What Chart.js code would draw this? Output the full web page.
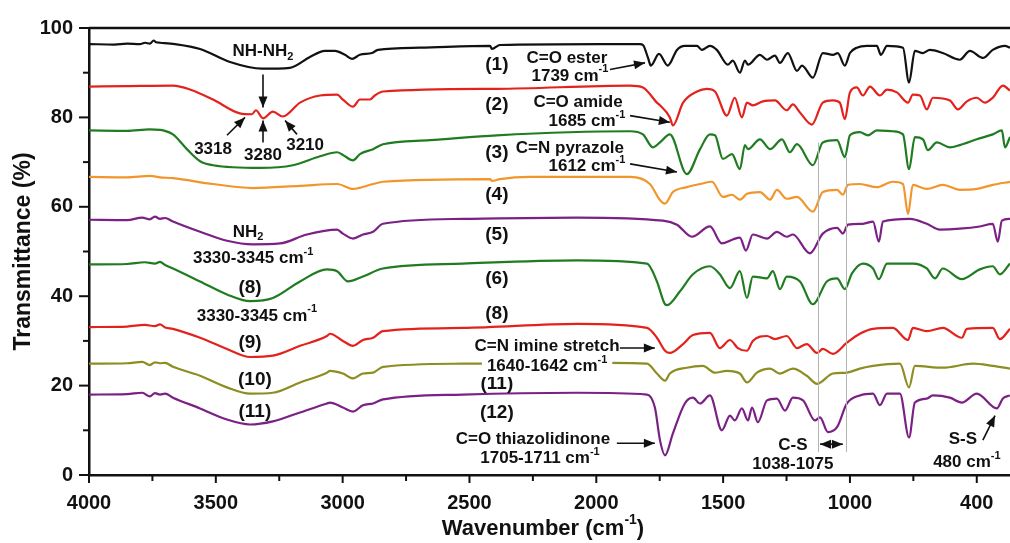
<!DOCTYPE html>
<html>
<head>
<meta charset="utf-8">
<script src="https://cdn.jsdelivr.net/npm/chart.js@4.4.1/dist/chart.umd.min.js"></script>
<style>
    html, body { margin: 0; padding: 0; background: #fff; }
</style>
</head>
<body>
<canvas id="ftirChart" width="1010" height="543"></canvas>
<script>
// Wavenumber ticks (the last one is labelled 400 in the original figure)
const xTickValues = [4000, 3750, 3500, 3250, 3000, 2750, 2500, 2250, 2000, 1750, 1500, 1250, 1000, 750, 500];
const xTickLabels = ['4000', '', '3500', '', '3000', '', '2500', '', '2000', '', '1500', '', '1000', '', '400'];
const yTickValues = [0, 10, 20, 30, 40, 50, 60, 70, 80, 90, 100];
const yTickLabels = ['0', '', '20', '', '40', '', '60', '', '80', '', '100'];

const seriesNames = ['(1)', '(2)', '(3)', '(4)', '(5)', '(6)', '(8)', '(11)', '(12)'];
const seriesColors = ['#111111', '#e3221d', '#207c20', '#f2952b', '#7b2085', '#207c20', '#e3221d', '#8d8d22', '#7b2085'];

// [wavenumber, transmittance %]
const s1 = [[4000,96.4],[3900,96.3],[3850,96.5],[3800,96.4],[3779,96.7],[3760,96.5],[3745,97.2],[3735,96.8],[3720,96.7],[3661,96.4],[3562,95.3],[3444,92.4],[3318,90.9],[3208,91.1],[3129,93.5],[3070,94.9],[3030,94.9],[2991,94.0],[2963,93.1],[2932,94.0],[2884,94.4],[2861,95.1],[2695,95.6],[2419,96.0],[2411,95.3],[2380,96.2],[1986,96.4],[1828,96.4],[1816,96.2],[1796,93.3],[1785,91.6],[1753,94.2],[1718,91.6],[1682,95.1],[1651,96.0],[1603,96.0],[1584,95.1],[1552,96.0],[1525,95.1],[1481,91.8],[1462,92.7],[1434,90.0],[1414,92.7],[1402,91.8],[1355,94.0],[1327,92.9],[1296,93.8],[1276,92.2],[1245,94.4],[1209,90.4],[1189,91.6],[1146,88.9],[1107,94.4],[1067,94.0],[1048,94.4],[1020,91.6],[1000,94.4],[973,95.6],[933,96.0],[894,96.0],[878,94.0],[854,96.0],[791,95.6],[767,87.8],[744,94.9],[712,94.4],[685,95.1],[634,94.4],[567,92.9],[527,94.9],[476,93.3],[437,95.1],[389,96.0],[369,95.6]];
const s2 = [[4000,86.9],[3850,87.0],[3669,87.1],[3600,86.2],[3511,84.0],[3405,80.9],[3358,80.7],[3342,81.6],[3314,79.8],[3275,81.3],[3236,80.2],[3168,83.3],[3089,84.9],[3022,85.1],[2999,84.0],[2959,82.4],[2932,84.0],[2892,84.0],[2873,84.9],[2841,85.8],[2392,86.4],[1867,87.1],[1816,86.7],[1761,83.3],[1749,82.7],[1710,80.0],[1698,78.2],[1658,83.3],[1603,85.8],[1564,86.4],[1532,85.8],[1485,80.4],[1454,84.4],[1426,80.0],[1406,83.3],[1383,82.7],[1343,83.6],[1296,83.8],[1249,81.6],[1225,82.9],[1197,81.1],[1150,78.4],[1107,83.3],[1067,83.8],[1040,83.3],[1020,79.6],[1000,85.6],[973,86.7],[949,84.9],[921,86.9],[882,84.9],[854,86.2],[815,85.6],[771,83.3],[752,85.1],[724,84.9],[697,81.8],[673,84.4],[606,83.8],[574,81.8],[539,83.6],[500,84.4],[468,83.3],[437,84.4],[397,87.1],[369,86.0]];
const s3 = [[4000,77.1],[3850,77.0],[3760,77.3],[3720,77.2],[3708,77.1],[3669,76.2],[3614,72.9],[3562,70.2],[3511,69.3],[3326,68.7],[3196,69.3],[3089,71.3],[3022,72.2],[2999,71.6],[2959,70.4],[2932,71.8],[2880,72.9],[2841,74.0],[2656,74.9],[2392,76.0],[1867,76.9],[1816,76.2],[1777,73.3],[1749,74.4],[1710,76.2],[1643,67.3],[1591,72.9],[1552,76.2],[1532,76.0],[1501,70.7],[1465,71.8],[1434,68.4],[1414,73.8],[1402,72.9],[1355,75.1],[1315,72.9],[1268,75.1],[1237,72.2],[1209,74.0],[1146,69.3],[1107,74.4],[1051,74.9],[1020,71.1],[1000,76.0],[961,76.7],[929,76.0],[894,77.1],[831,76.9],[791,76.2],[767,68.4],[744,75.6],[712,75.1],[693,72.7],[657,74.4],[606,73.3],[567,73.8],[500,75.1],[437,76.2],[401,77.1],[389,73.3],[369,75.6]];
const s4 = [[4000,66.7],[3850,66.6],[3760,66.9],[3720,66.6],[3669,66.4],[3511,65.1],[3354,64.2],[3168,64.7],[3022,65.1],[2959,64.0],[2880,65.1],[2841,65.6],[2419,66.2],[2411,65.8],[2380,66.2],[2262,66.7],[1867,66.7],[1789,65.1],[1749,61.5],[1729,60.7],[1698,63.3],[1643,64.4],[1591,65.1],[1544,65.6],[1501,62.2],[1465,62.7],[1434,61.6],[1406,62.9],[1355,63.3],[1315,61.6],[1288,63.8],[1249,61.8],[1209,62.2],[1146,58.9],[1107,63.3],[1051,63.8],[1028,62.7],[1008,64.9],[961,65.1],[894,64.4],[831,65.6],[791,65.1],[771,58.4],[752,64.9],[697,64.0],[634,64.9],[567,63.8],[500,64.0],[437,64.9],[369,65.6]];
const s5 = [[4000,57.1],[3850,57.0],[3790,57.6],[3760,57.2],[3740,57.8],[3720,57.3],[3700,57.5],[3669,56.7],[3562,54.4],[3456,52.4],[3354,51.6],[3247,51.8],[3141,53.8],[3022,54.9],[2999,54.0],[2959,52.9],[2920,53.8],[2880,54.4],[2841,56.2],[2526,57.3],[2076,57.6],[1737,56.9],[1682,56.0],[1623,53.3],[1552,55.6],[1505,51.8],[1462,52.7],[1434,53.1],[1410,50.2],[1383,53.8],[1327,52.9],[1288,54.4],[1249,53.3],[1225,53.8],[1158,49.6],[1107,54.0],[1051,55.3],[1028,54.0],[1008,56.0],[949,56.2],[909,56.7],[886,52.2],[870,56.7],[764,57.3],[697,56.2],[646,54.9],[567,55.1],[488,55.6],[437,56.2],[417,52.2],[401,56.9],[369,57.3]];
const s6 = [[4000,47.1],[3850,47.2],[3780,47.6],[3740,47.3],[3720,47.7],[3700,47.0],[3669,46.2],[3562,43.3],[3456,40.4],[3365,38.9],[3275,39.6],[3168,43.3],[3062,46.0],[3022,45.6],[2979,43.3],[2920,44.4],[2841,46.2],[2526,47.3],[2076,48.0],[1800,47.3],[1761,43.3],[1729,38.2],[1721,38.0],[1670,41.1],[1619,44.9],[1552,46.7],[1513,44.9],[1473,41.8],[1434,45.6],[1406,39.6],[1383,44.4],[1327,44.0],[1304,45.6],[1276,41.6],[1249,44.4],[1197,43.3],[1146,38.2],[1091,43.3],[1051,44.0],[1020,41.6],[992,45.1],[949,47.3],[909,46.2],[886,43.8],[854,47.3],[752,47.3],[697,46.2],[665,44.0],[634,46.2],[559,43.8],[488,46.0],[437,46.7],[409,44.9],[369,47.3]];
const s7 = [[4000,33.1],[3850,33.2],[3780,33.6],[3740,33.3],[3720,33.7],[3700,33.0],[3669,32.7],[3562,30.7],[3456,28.2],[3365,26.4],[3275,26.7],[3168,28.9],[3062,31.1],[3050,31.6],[2999,30.0],[2959,28.9],[2920,30.2],[2880,30.7],[2841,32.2],[2526,32.9],[2076,33.8],[1800,32.9],[1761,30.7],[1729,27.8],[1710,27.3],[1658,29.3],[1619,31.3],[1552,31.8],[1513,28.4],[1473,30.2],[1442,28.4],[1406,27.8],[1383,30.0],[1327,31.1],[1296,30.4],[1249,31.1],[1209,28.4],[1170,29.3],[1130,27.3],[1107,28.2],[1067,27.1],[1012,29.6],[961,31.6],[909,32.7],[831,32.9],[771,30.2],[752,32.9],[697,32.2],[634,32.9],[559,30.7],[539,32.7],[437,32.9],[409,30.4],[369,32.7]];
const s8 = [[4000,24.9],[3850,25.0],[3790,25.3],[3760,24.6],[3740,25.2],[3720,25.0],[3700,25.1],[3669,24.2],[3562,22.2],[3456,19.6],[3365,18.2],[3275,18.4],[3168,20.7],[3062,22.9],[3050,23.3],[2999,22.7],[2959,21.6],[2920,22.7],[2880,22.9],[2841,24.2],[2526,24.9],[1946,25.1],[1800,24.9],[1761,22.7],[1729,21.1],[1710,22.7],[1643,24.0],[1580,24.4],[1532,22.9],[1485,23.3],[1434,22.7],[1406,20.7],[1367,22.9],[1315,23.8],[1276,22.7],[1225,23.8],[1170,22.2],[1130,20.4],[1067,22.7],[1012,22.9],[961,23.8],[909,24.4],[803,24.9],[767,19.6],[744,24.4],[634,24.0],[515,24.9],[437,24.4],[369,23.8]];
const s9 = [[4000,18.0],[3850,18.1],[3790,18.4],[3760,17.6],[3740,18.3],[3720,18.0],[3700,18.2],[3669,17.3],[3562,14.9],[3456,12.4],[3365,11.3],[3275,12.0],[3168,14.0],[3062,16.0],[3050,16.2],[2999,15.1],[2959,14.2],[2920,15.6],[2880,16.0],[2841,16.9],[2526,18.0],[2076,18.4],[1800,18.0],[1769,15.1],[1749,7.8],[1729,4.4],[1698,9.3],[1651,16.0],[1619,17.3],[1591,16.0],[1552,17.8],[1505,10.0],[1473,13.3],[1454,12.2],[1426,14.9],[1402,12.2],[1386,15.1],[1363,11.8],[1327,16.7],[1288,17.1],[1256,14.4],[1225,17.3],[1185,16.7],[1138,12.2],[1118,12.9],[1087,9.6],[1051,10.7],[1012,16.0],[961,17.8],[909,18.2],[882,15.6],[854,18.2],[803,18.2],[767,8.4],[744,16.2],[697,17.1],[673,17.8],[606,17.3],[559,16.2],[500,18.2],[421,14.9],[397,17.1],[369,17.8]];
const allSeries = [s1, s2, s3, s4, s5, s6, s7, s8, s9];

// text notes: [text, wavenumber, %T, size, white background]
const notes = [
    ['(1)', 2392, 91.8, 19], ['(2)', 2392, 82.9, 19], ['(3)', 2392, 72.2, 19],
    ['(4)', 2392, 62.7, 19], ['(5)', 2392, 53.8, 19], ['(6)', 2392, 44.0, 19],
    ['(8)', 2392, 36.0, 19], ['(11)', 2392, 20.4, 19], ['(12)', 2392, 14.0, 19],
    ['(8)', 3365, 41.8, 19], ['(9)', 3365, 29.6, 19], ['(10)', 3346, 21.3, 19], ['(11)', 3346, 14.2, 19],
    ['NH_{2}', 3373, 54.4, 17], ['3330-3345 cm^{-1}', 3353, 48.4, 17], ['3330-3345 cm^{-1}', 3338, 35.6, 17],
    ['NH-NH_{2}', 3314, 94.7, 17], ['3318', 3511, 72.9, 17], ['3280', 3314, 71.6, 17], ['3210', 3148, 73.8, 17],
    ['C=O ester', 2116, 93.3, 17], ['1739 cm^{-1}', 2104, 89.3, 17],
    ['C=O amide', 2072, 83.3, 17], ['1685 cm^{-1}', 2037, 79.1, 17],
    ['C=N pyrazole', 2104, 73.1, 17], ['1612 cm^{-1}', 2037, 69.1, 17],
    ['C=N imine stretch', 2194, 28.7, 17], ['1640-1642 cm^{-1}', 2194, 24.4, 17, true],
    ['C=O thiazolidinone', 2250, 8.0, 17], ['1705-1711 cm^{-1}', 2222, 3.8, 17],
    ['C-S', 1225, 6.7, 17], ['1038-1075', 1225, 2.4, 17],
    ['S-S', 555, 8.0, 17], ['480 cm^{-1}', 539, 2.9, 17]
];
// arrows: [from wn, from %T, to wn, to %T, double headed]
const arrows = [
    [3314, 89.6, 3314, 82.2], [3456, 76.0, 3385, 80.0], [3314, 74.4, 3314, 79.3], [3180, 76.2, 3227, 79.3],
    [1946, 90.7, 1808, 92.2], [1867, 80.4, 1710, 78.9], [1867, 69.6, 1682, 67.8],
    [1907, 28.4, 1769, 28.4], [1919, 7.1, 1769, 7.1], [1118, 6.9, 1028, 6.9, true], [476, 7.8, 428, 13.3]
];
// thin grey guide lines for the C-S band: [wn, %T top, %T bottom]
const guides = [[1126, 74.4, 5.1], [1016, 71.1, 5.1]];

const FONT = '"Liberation Sans", Arial, sans-serif';

function richText(ctx, str, x, y, size, bg) {
    const segs = [];
    str.split(/(\^\{[^}]*\}|_\{[^}]*\})/).forEach(s => {
        if (!s) return;
        if (s.startsWith('^{')) segs.push({ t: s.slice(2, -1), dy: -0.38 });
        else if (s.startsWith('_{')) segs.push({ t: s.slice(2, -1), dy: 0.3 });
        else segs.push({ t: s, dy: 0 });
    });
    let total = 0;
    segs.forEach(s => {
        s.size = s.dy ? Math.round(size * 0.62) : size;
        ctx.font = `bold ${s.size}px ${FONT}`;
        s.w = ctx.measureText(s.t).width;
        total += s.w;
    });
    let cx = x - total / 2;
    if (bg) {
        ctx.fillStyle = '#fff';
        ctx.fillRect(cx - 5, y - size * 0.65, total + 10, size * 1.3);
    }
    ctx.fillStyle = '#111';
    ctx.textAlign = 'left';
    ctx.textBaseline = 'middle';
    segs.forEach(s => {
        ctx.font = `bold ${s.size}px ${FONT}`;
        ctx.fillText(s.t, cx, y + s.dy * size);
        cx += s.w;
    });
}

function arrowHead(ctx, x1, y1, x2, y2) {
    const a = Math.atan2(y2 - y1, x2 - x1);
    ctx.beginPath();
    ctx.moveTo(x2, y2);
    ctx.lineTo(x2 - 11 * Math.cos(a) + 4.5 * Math.sin(a), y2 - 11 * Math.sin(a) - 4.5 * Math.cos(a));
    ctx.lineTo(x2 - 11 * Math.cos(a) - 4.5 * Math.sin(a), y2 - 11 * Math.sin(a) + 4.5 * Math.cos(a));
    ctx.closePath();
    ctx.fill();
}

const decorations = {
    id: 'decorations',
    afterDatasetsDraw(chart) {
        const { ctx, scales: { x, y } } = chart;
        ctx.save();

        // grey guides
        ctx.strokeStyle = '#b4b4b4';
        ctx.lineWidth = 1;
        guides.forEach(([w, t1, t2]) => {
            const px = Math.round(x.getPixelForValue(w)) + 0.5;
            ctx.beginPath();
            ctx.moveTo(px, y.getPixelForValue(t1));
            ctx.lineTo(px, y.getPixelForValue(t2));
            ctx.stroke();
        });

        // arrows
        ctx.strokeStyle = '#111';
        ctx.fillStyle = '#111';
        ctx.lineWidth = 1.6;
        arrows.forEach(([w1, t1, w2, t2, both]) => {
            const x1 = x.getPixelForValue(w1), y1 = y.getPixelForValue(t1);
            const x2 = x.getPixelForValue(w2), y2 = y.getPixelForValue(t2);
            ctx.beginPath();
            ctx.moveTo(x1, y1);
            ctx.lineTo(x2, y2);
            ctx.stroke();
            arrowHead(ctx, x1, y1, x2, y2);
            if (both) arrowHead(ctx, x2, y2, x1, y1);
        });

        // text notes
        notes.forEach(([t, w, v, size, bg]) => {
            richText(ctx, t, x.getPixelForValue(w), y.getPixelForValue(v), size, bg);
        });
        ctx.restore();
    },
    afterDraw(chart) {
        const { ctx, chartArea, scales: { x, y } } = chart;
        ctx.save();
        ctx.strokeStyle = '#111';

        // top frame line
        ctx.lineWidth = 2.5;
        ctx.beginPath();
        ctx.moveTo(chartArea.left, chartArea.top);
        ctx.lineTo(chartArea.right, chartArea.top);
        ctx.stroke();

        // tick marks
        ctx.lineWidth = 2;
        xTickValues.forEach((v, i) => {
            const px = x.getPixelForValue(v);
            ctx.beginPath();
            ctx.moveTo(px, chartArea.bottom);
            ctx.lineTo(px, chartArea.bottom + (xTickLabels[i] ? 8 : 6));
            ctx.stroke();
        });
        yTickValues.forEach((v, i) => {
            const py = y.getPixelForValue(v);
            ctx.beginPath();
            ctx.moveTo(chartArea.left, py);
            ctx.lineTo(chartArea.left - (yTickLabels[i] ? 10 : 6), py);
            ctx.stroke();
        });

        // axis titles
        richText(ctx, 'Wavenumber (cm^{-1})', chartArea.left + 454, 529, 22);
        ctx.save();
        ctx.translate(24, (chartArea.top + chartArea.bottom) / 2);
        ctx.rotate(-Math.PI / 2);
        richText(ctx, 'Transmittance (%)', 0, 0, 23);
        ctx.restore();
        ctx.restore();
    }
};

const ctx = document.getElementById('ftirChart').getContext('2d');
new Chart(ctx, {
    type: 'line',
    data: {
        datasets: allSeries.map((s, i) => ({
            label: seriesNames[i],
            data: s.map(([w, t]) => ({ x: w, y: t })),
            borderColor: seriesColors[i],
            borderWidth: 2.2,
            pointRadius: 0,
            cubicInterpolationMode: 'monotone',
            fill: false
        }))
    },
    options: {
        responsive: false,
        animation: false,
        devicePixelRatio: 1,
        layout: { padding: { top: 25, right: 0, bottom: 0, left: 0 } },
        plugins: {
            legend: { display: false },
            tooltip: { enabled: false }
        },
        scales: {
            x: {
                type: 'linear',
                reverse: true,
                min: 369,
                max: 4000,
                afterBuildTicks: scale => {
                    scale.ticks = xTickValues.map(v => ({ value: v }));
                },
                afterFit: scale => { scale.height = 68; },
                grid: { display: false, drawTicks: false },
                border: { display: true, color: '#111', width: 2.5 },
                ticks: {
                    autoSkip: false,
                    maxRotation: 0,
                    padding: 16,
                    color: '#111',
                    font: { family: FONT, size: 20, weight: 'bold' },
                    callback: value => xTickLabels[xTickValues.indexOf(value)] || ''
                }
            },
            y: {
                min: 0,
                max: 100,
                afterBuildTicks: scale => {
                    scale.ticks = yTickValues.map(v => ({ value: v }));
                },
                afterFit: scale => { scale.width = 89; },
                grid: { display: false, drawTicks: false },
                border: { display: true, color: '#111', width: 2.5 },
                ticks: {
                    padding: 16,
                    color: '#111',
                    font: { family: FONT, size: 20, weight: 'bold' },
                    callback: value => yTickLabels[yTickValues.indexOf(value)] || ''
                }
            }
        }
    },
    plugins: [decorations]
});
</script>
</body>
</html>
